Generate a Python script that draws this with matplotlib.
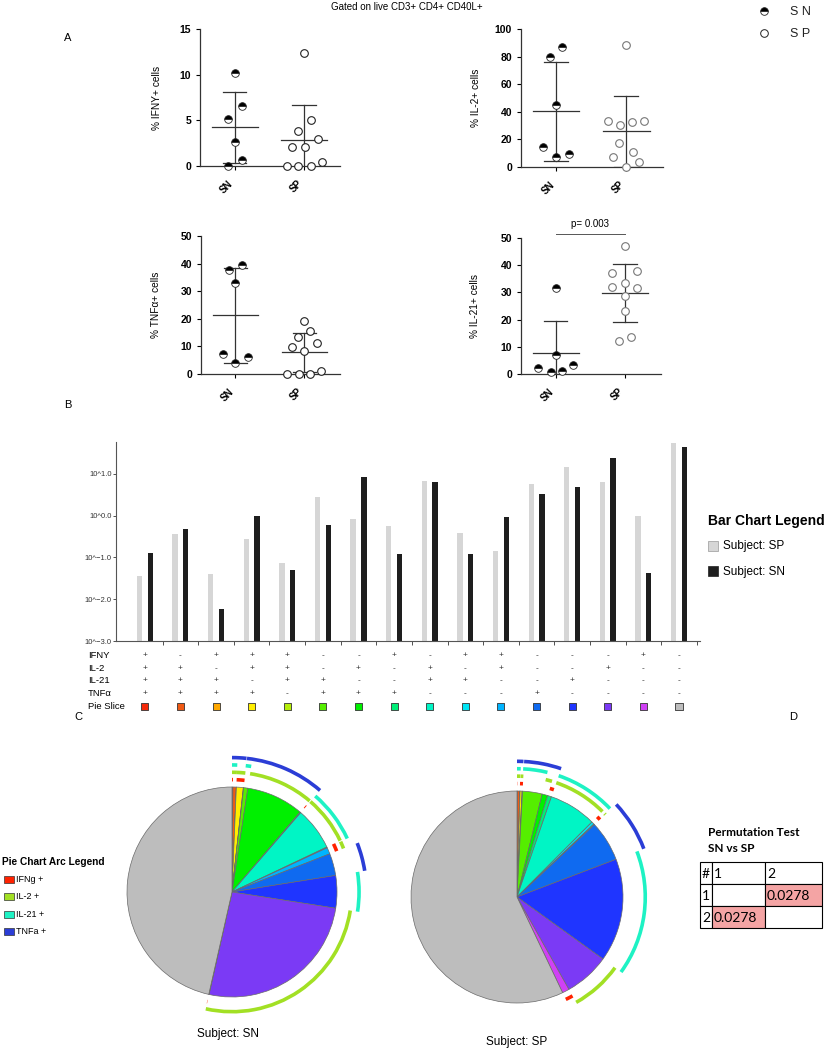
import numpy as np
import matplotlib
matplotlib.use('Agg')
import matplotlib.pyplot as plt
import matplotlib.transforms as mtrans
from matplotlib.patches import Arc, Rectangle

plt.rcParams['font.family'] = ['Liberation Sans', 'DejaVu Sans']

W, H = 829, 1050

# ---------- panel A: % of cells, with horizontal jitter ----------
groups = ['SN', 'SP']

ifny_sn = [10.2, 6.6, 5.2, 2.6, 0.7, 0.0]
ifny_sn_x = [0.0, 0.1, -0.09, 0.0, 0.1, -0.09]
ifny_sp = [12.4, 5.0, 3.8, 3.0, 2.1, 2.1, 0.0, 0.0, 0.0, 0.4]
ifny_sp_x = [0.0, 0.1, -0.08, 0.2, -0.17, 0.015, -0.24, -0.08, 0.1, 0.26]

il2_sn = [86.7, 79.4, 44.8, 14.5, 7.3, 9.4]
il2_sn_x = [0.086, -0.086, 0.0, -0.18, 0.0, 0.18]
il2_sp = [88.1, 33.4, 32.7, 33.4, 30.7, 17.4, 10.7, 7.3, 3.9, 0.0]
il2_sp_x = [0.0, -0.26, 0.08, 0.25, -0.09, -0.1, 0.09, -0.19, 0.18, 0.0]

tnf_sn = [39.5, 37.6, 32.9, 7.2, 6.1, 4.0]
tnf_sn_x = [0.1, -0.09, 0.0, -0.18, 0.19, 0.0]
tnf_sp = [19.2, 15.4, 13.5, 11.2, 9.9, 8.2, 0.0, 0.0, 0.0, 1.1]
tnf_sp_x = [0.0, 0.09, -0.09, 0.19, -0.18, 0.0, -0.25, -0.08, 0.08, 0.25]

il21_sn = [31.5, 7.1, 2.3, 3.3, 0.9, 1.1]
il21_sn_x = [0.0, 0.0, -0.25, 0.25, -0.07, 0.09]
il21_sp = [47.2, 37.3, 37.8, 33.5, 32.0, 31.7, 28.8, 23.3, 12.3, 13.7]
il21_sp_x = [0.0, -0.18, 0.18, 0.0, -0.18, 0.18, 0.0, 0.0, -0.09, 0.09]
il21_p = 'p= 0.003'

# ---------- panel B / C: cytokine combinations ----------
ifny_row = ['+', '-', '+', '+', '+', '-', '-', '+', '-', '+', '+', '-', '-', '-', '+', '-']
il2_row = ['+', '+', '-', '+', '+', '-', '+', '-', '+', '-', '+', '-', '-', '+', '-', '-']
il21_row = ['+', '+', '+', '-', '+', '+', '-', '-', '+', '+', '-', '-', '+', '-', '-', '-']
tnf_row = ['+', '+', '+', '+', '-', '+', '+', '+', '-', '-', '-', '+', '-', '-', '-', '-']
row_names = ['IFNY', 'IL-2', 'IL-21', 'TNFα', 'Pie Slice']

sp_pct = [0.035, 0.36, 0.040, 0.28, 0.072, 2.8, 0.81, 0.56, 6.8, 0.38, 0.14, 5.8, 14.8, 6.5, 1.0, 53.7]
sn_pct = [0.126, 0.49, 0.0059, 1.0, 0.051, 0.60, 8.3, 0.123, 6.2, 0.123, 0.93, 3.2, 4.7, 24.5, 0.042, 43.7]

slice_colors = ['#f52a0a', '#f05a14', '#ffa800', '#ffee00', '#b5ee0a', '#55ee00', '#00f000', '#00ee77',
                '#00f5c5', '#00e5f5', '#00b4ff', '#0f6af0', '#1f35ff', '#7b3af5', '#d040f5', '#bdbdbd']

arc_names = ['IFNg +', 'IL-2 +', 'IL-21 +', 'TNFa +']
arc_colors = ['#ff2200', '#a2e024', '#1ef2c4', '#2b3dd6']

# ---------- panel D ----------
perm_head = ['#', '1', '2']
perm_rows = [['1', '', '0.0278'], ['2', '0.0278', '']]


def px_box(x0, y0, x1, y1):
    return [x0 / W, 1 - y1 / H, (x1 - x0) / W, (y1 - y0) / H]


fig = plt.figure(figsize=(W / 100, H / 100), dpi=100)

ov = fig.add_axes([0, 0, 1, 1], zorder=-1)
ov.set_xlim(0, W)
ov.set_ylim(H, 0)
ov.axis('off')

ov.text(407, 7, 'Gated on live CD3+ CD4+ CD40L+', fontsize=7, ha='center', va='center')
for lab, x, y in [('A', 68, 38), ('B', 68, 405), ('C', 78, 717), ('D', 793, 717)]:
    ov.text(x, y, lab, fontsize=8, ha='center', va='center')

# top-right legend
ov.plot([764], [11], 'o', ms=5.5, fillstyle='top', mfc='black', mfcalt='white', mec='#222', mew=0.6)
ov.plot([764], [33], 'o', ms=5.5, mfc='white', mec='#222', mew=0.7)
ov.text(790, 12, 'S N', fontsize=9, va='center', color='#222')
ov.text(790, 34, 'S P', fontsize=9, va='center', color='#222')


def dot_panel(box, sn, sn_x, sp, sp_x, ymax, step, ylabel, sp_edge, lab_x):
    ax = fig.add_axes(px_box(*box))
    for pos, vals, offs, half in [(0, sn, sn_x, True), (1, sp, sp_x, False)]:
        vals = np.array(vals)
        m, sd = vals.mean(), vals.std(ddof=1)
        lo, hi = max(m - sd, 0), m + sd
        ax.plot([pos, pos], [lo, hi], color='#333', lw=0.9, zorder=1)
        ax.plot([pos - 0.17, pos + 0.17], [hi, hi], color='#333', lw=0.9, zorder=1)
        if m - sd > 0:
            ax.plot([pos - 0.17, pos + 0.17], [lo, lo], color='#333', lw=0.9, zorder=1)
        ax.plot([pos - 0.33, pos + 0.33], [m, m], color='#333', lw=0.9, zorder=1)
        xs = pos + np.array(offs)
        if half:
            ax.plot(xs, vals, 'o', ms=5.5, fillstyle='top', mfc='black', mfcalt='white',
                    mec='#222', mew=0.6, clip_on=False, zorder=3)
        else:
            ax.plot(xs, vals, 'o', ms=5.5, mfc='white', mec=sp_edge, mew=0.8,
                    clip_on=False, zorder=3)
    ax.set_xlim(-0.5, 1.52)
    ax.set_ylim(0, ymax)
    ax.set_yticks(np.arange(0, ymax + 1, step))
    ax.set_xticks([0, 1])
    ax.set_xticklabels(groups, rotation=45, ha='right', va='top', fontweight='bold', fontsize=7)
    for t in ax.get_yticklabels():
        t.set_fontweight('bold')
    ax.tick_params(axis='y', labelsize=7.5, length=3, width=0.8)
    ax.tick_params(axis='x', length=3, width=0.8, pad=6)
    for s in ['top', 'right']:
        ax.spines[s].set_visible(False)
    for s in ['left', 'bottom']:
        ax.spines[s].set_color('#333')
        ax.spines[s].set_linewidth(0.9)
    ax.set_ylabel(ylabel, fontsize=7.3)
    ax.yaxis.set_label_coords(lab_x, 0.5)
    return ax


dot_panel((200, 29, 340, 166), ifny_sn, ifny_sn_x, ifny_sp, ifny_sp_x, 15, 5,
          '% IFNY+ cells', '#222', -0.27)
dot_panel((521, 29, 663, 167), il2_sn, il2_sn_x, il2_sp, il2_sp_x, 100, 20,
          '% IL-2+ cells', '#777', -0.28)
dot_panel((201, 236, 340, 374), tnf_sn, tnf_sn_x, tnf_sp, tnf_sp_x, 50, 10,
          '% TNFα+ cells', '#222', -0.29)
ax21 = dot_panel((521, 238, 661, 374), il21_sn, il21_sn_x, il21_sp, il21_sp_x, 50, 10,
                 '% IL-21+ cells', '#777', -0.29)
ax21.plot([0, 1], [51.3, 51.3], color='#555', lw=0.7, clip_on=False)
ax21.text(0.5, 53.3, il21_p, fontsize=7, ha='center', va='bottom')

# ---------- panel B: bar chart ----------
axb = fig.add_axes(px_box(116, 442, 700, 641))
idx = np.arange(len(sp_pct))
base = 1e-3
axb.bar(idx - 0.15, np.array(sp_pct) - base, bottom=base, width=0.15, color='#d6d6d6')
axb.bar(idx + 0.15, np.array(sn_pct) - base, bottom=base, width=0.15, color='#1e1e1e')
axb.set_yscale('log')
axb.set_ylim(base, 10 ** 1.76)
axb.set_xlim(-0.81, 15.59)
yt = [1e-3, 1e-2, 1e-1, 1, 10]
axb.set_yticks(yt)
axb.set_yticklabels(['10^' + ('%.1f' % np.log10(v)).replace('-', '\u2212') for v in yt])
axb.yaxis.set_minor_locator(matplotlib.ticker.NullLocator())
axb.set_xticks(idx + 0.5)
axb.set_xticklabels([])
axb.tick_params(axis='y', labelsize=5.5, length=2, width=0.6, pad=1, colors='#333')
axb.tick_params(axis='x', length=3, width=0.6, colors='#333')
for s in ['top', 'right']:
    axb.spines[s].set_visible(False)
for s in ['left', 'bottom']:
    axb.spines[s].set_color('#555')
    axb.spines[s].set_linewidth(0.8)

tr = mtrans.blended_transform_factory(axb.transData, axb.transAxes)
row_y = [-0.075, -0.138, -0.201, -0.264, -0.327]
for name, ry in zip(row_names, row_y):
    ov.text(88, 641 - ry * 199, name, fontsize=6.8, va='center', ha='left')
for marks, ry in zip([ifny_row, il2_row, il21_row, tnf_row], row_y[:4]):
    for i, m in enumerate(marks):
        axb.text(i, ry, m, transform=tr, fontsize=6, ha='center', va='center', color='#333')
axb.scatter(idx, [row_y[4]] * len(idx), s=26, marker='s', c=slice_colors, edgecolors='#333',
            linewidths=0.6, transform=tr, clip_on=False)

ov.text(708, 521, 'Bar Chart Legend', fontsize=10, fontweight='bold', va='center')
ov.add_patch(Rectangle((708, 541), 10, 10, facecolor='#d6d6d6', edgecolor='#999', lw=0.5))
ov.text(723, 546.5, 'Subject: SP', fontsize=8.5, va='center')
ov.add_patch(Rectangle((708, 566), 10, 10, facecolor='#1e1e1e', edgecolor='#1e1e1e', lw=0.5))
ov.text(723, 571.5, 'Subject: SN', fontsize=8.5, va='center')


# ---------- panel C: pies ----------
def pie_panel(box, vals, lim):
    ax = fig.add_axes(px_box(*box))
    ax.pie(vals, colors=slice_colors, startangle=90, counterclock=False, radius=1.0,
           wedgeprops=dict(edgecolor='#6a6a6a', linewidth=0.5))
    edges = np.concatenate([[0], np.cumsum(vals) / np.sum(vals) * 360])
    for k, (marks, col) in enumerate(zip([ifny_row, il2_row, il21_row, tnf_row], arc_colors)):
        r = 1.07 + 0.07 * k
        i = 0
        while i < len(marks):
            if marks[i] == '+':
                j = i
                while j + 1 < len(marks) and marks[j + 1] == '+':
                    j += 1
                a0, a1 = edges[i], edges[j + 1]
                ax.add_patch(Arc((0, 0), 2 * r, 2 * r, theta1=90 - a1, theta2=90 - a0,
                                 color=col, lw=2.6))
                i = j + 1
            else:
                i += 1
    ax.set_xlim(-lim, lim)
    ax.set_ylim(-lim, lim)
    ax.set_aspect('equal')
    return ax


pie_panel((92, 752, 372, 1032), sn_pct, 140 / 105)
pie_panel((377, 757, 657, 1037), sp_pct, 140 / 106)
ov.text(228, 1034, 'Subject: SN', fontsize=8.5, ha='center', va='center')
ov.text(517, 1042, 'Subject: SP', fontsize=8.5, ha='center', va='center')

ov.text(2, 862, 'Pie Chart Arc Legend', fontsize=7.3, fontweight='bold', va='center')
for k, (name, col) in enumerate(zip(arc_names, arc_colors)):
    y = 879 + 17.6 * k
    ov.add_patch(Rectangle((4, y - 3.5), 10, 7, facecolor=col, edgecolor='#333', lw=0.5))
    ov.text(16, y, name, fontsize=6.5, va='center')

# ---------- panel D: permutation table ----------
ov.text(708, 832, 'Permutation Test', fontsize=8.5, fontweight='bold', va='center', family='Lato')
ov.text(708, 849, 'SN vs SP', fontsize=8.5, fontweight='bold', va='center', family='Lato')
col_x = [700, 712, 765, 822]
row_yy = [862, 884, 906, 928]
for r, cells in enumerate([perm_head] + perm_rows):
    for c, txt in enumerate(cells):
        x0, x1 = col_x[c], col_x[c + 1]
        y0, y1 = row_yy[r], row_yy[r + 1]
        fill = '#f4a4a4' if (r > 0 and c > 0 and txt) else 'white'
        ov.add_patch(Rectangle((x0, y0), x1 - x0, y1 - y0, facecolor=fill, edgecolor='black', lw=0.8))
        ov.text(x0 + 2, (y0 + y1) / 2 + 1, txt, fontsize=10, va='center', ha='left', family='Lato')

fig.savefig('out.png', dpi=100)
